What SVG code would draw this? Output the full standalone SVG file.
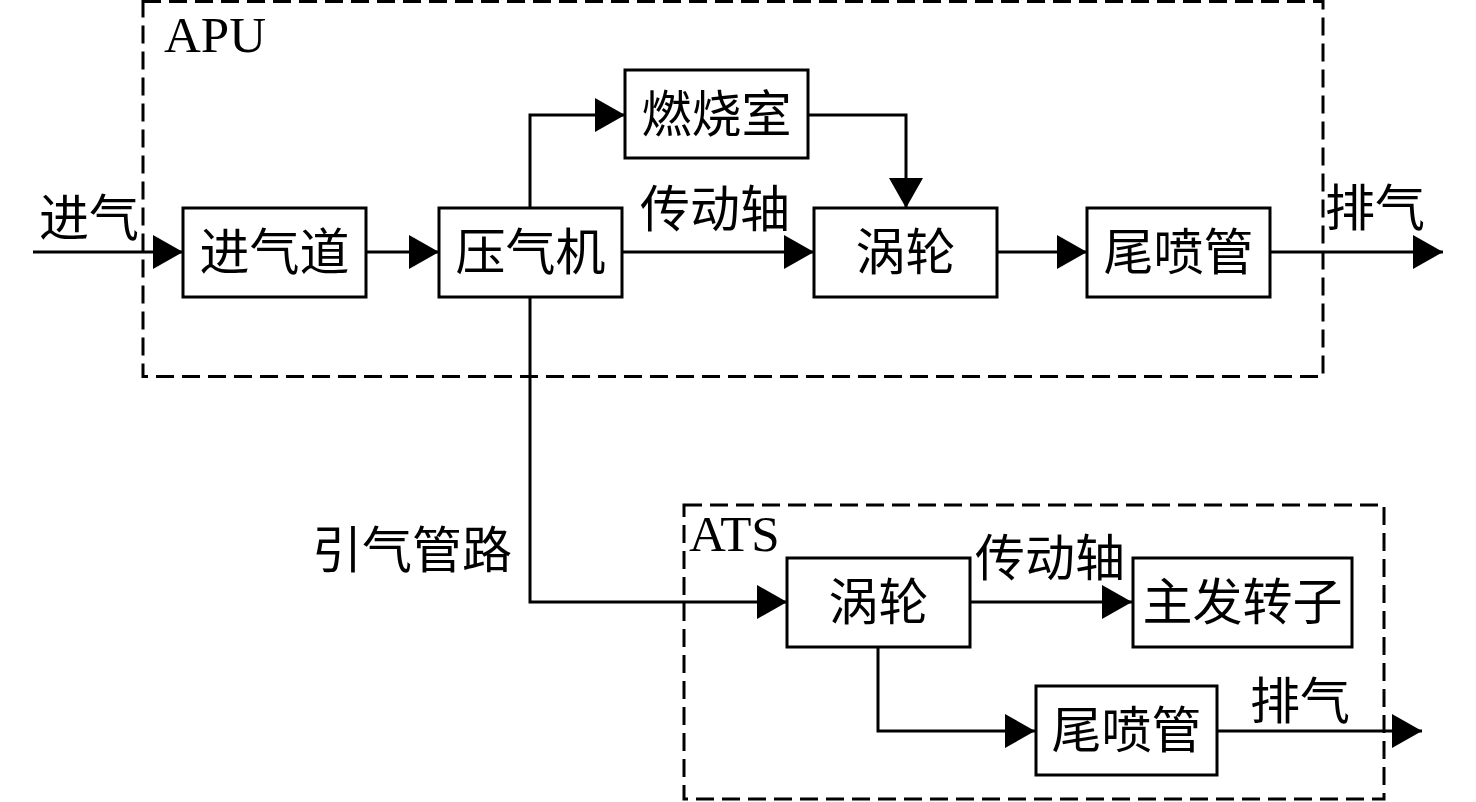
<svg xmlns="http://www.w3.org/2000/svg" width="1476" height="802" viewBox="0 0 1476 802">
<defs>
<marker id="arr" markerUnits="userSpaceOnUse" markerWidth="30" markerHeight="34" refX="30" refY="17" orient="auto"><path d="M0,0 L30,17 L0,34 z" fill="#000"/></marker>
<style>
.box{fill:#fff;stroke:#000;stroke-width:3}
.grp{fill:none;stroke:#000;stroke-width:3;stroke-dasharray:18 8}
.ln{fill:none;stroke:#000;stroke-width:3}
.t{font-family:"Liberation Serif","Noto Sans CJK SC",serif;font-size:50px;text-anchor:middle;fill:#000}
.lat{font-family:"Liberation Serif",serif;font-size:51px;fill:#000}
</style>
</defs>
<rect width="1476" height="802" fill="#fff"/>
<g id="apu-group"><rect class="grp" x="143" y="1.5" width="1180" height="375"/><text class="lat" x="164" y="52">APU</text></g>
<g id="ats-group"><rect class="grp" x="684" y="505" width="700" height="294"/><text class="lat" x="689" y="551">ATS</text></g>
<g id="connectors">
<path class="ln" d="M33,252 H183" marker-end="url(#arr)"/>
<path class="ln" d="M366,252 H439" marker-end="url(#arr)"/>
<path class="ln" d="M530,208 V115 H625" marker-end="url(#arr)"/>
<path class="ln" d="M808,115 H906 V208" marker-end="url(#arr)"/>
<path class="ln" d="M622,252 H814" marker-end="url(#arr)"/>
<path class="ln" d="M997,252 H1087" marker-end="url(#arr)"/>
<path class="ln" d="M1270,252 H1443" marker-end="url(#arr)"/>
<path class="ln" d="M530,297 V602 H787" marker-end="url(#arr)"/>
<path class="ln" d="M970,602 H1132" marker-end="url(#arr)"/>
<path class="ln" d="M878,647 V731 H1035" marker-end="url(#arr)"/>
<path class="ln" d="M1216,731 H1422" marker-end="url(#arr)"/>
<text class="t" x="89" y="236">进气</text>
<text class="t" x="715" y="227">传动轴</text>
<text class="t" x="1375" y="226">排气</text>
<text class="t" x="412" y="568">引气管路</text>
<text class="t" x="1050" y="576">传动轴</text>
<text class="t" x="1300" y="719">排气</text>
</g>
<g id="intake"><rect class="box" x="183" y="208" width="183" height="89"/><text class="t" x="274.5" y="270">进气道</text></g>
<g id="compressor"><rect class="box" x="439" y="208" width="183" height="89"/><text class="t" x="530.5" y="270">压气机</text></g>
<g id="combustor"><rect class="box" x="625" y="70" width="183" height="88"/><text class="t" x="716.5" y="132">燃烧室</text></g>
<g id="turbine"><rect class="box" x="814" y="208" width="183" height="89"/><text class="t" x="905.5" y="270">涡轮</text></g>
<g id="nozzle"><rect class="box" x="1087" y="208" width="183" height="89"/><text class="t" x="1178.5" y="270">尾喷管</text></g>
<g id="ats-turbine"><rect class="box" x="787" y="558" width="183" height="89"/><text class="t" x="878.5" y="620">涡轮</text></g>
<g id="main-rotor"><rect class="box" x="1133" y="558" width="219" height="89"/><text class="t" x="1242.5" y="620">主发转子</text></g>
<g id="ats-nozzle"><rect class="box" x="1036" y="686" width="181" height="89"/><text class="t" x="1126.5" y="748">尾喷管</text></g>
</svg>
